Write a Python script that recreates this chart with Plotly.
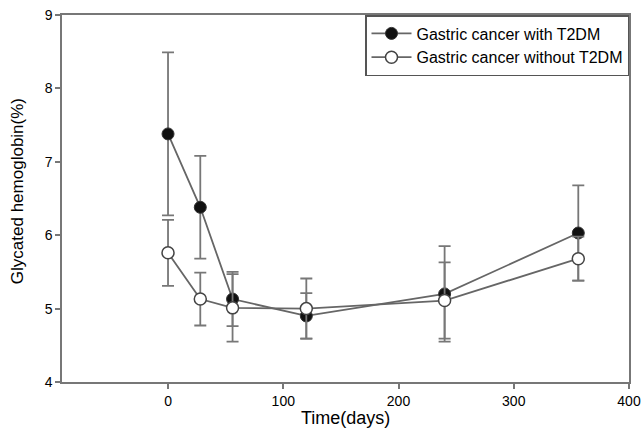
import plotly.graph_objects as go

days = [0, 28, 56, 120, 240, 356]
with_t2dm = [7.38, 6.38, 5.13, 4.90, 5.20, 6.03]
with_sd = [1.11, 0.70, 0.37, 0.31, 0.65, 0.65]
without_t2dm = [5.76, 5.13, 5.01, 5.00, 5.11, 5.68]
without_sd = [0.45, 0.36, 0.46, 0.41, 0.52, 0.30]
x_ticks = [0, 100, 200, 300, 400]
y_ticks = [4, 5, 6, 7, 8, 9]
x_title = "Time(days)"
y_title = "Glycated hemoglobin(%)"

line_col = "#666666"
err_col = "#777777"

fig = go.Figure()
fig.add_trace(go.Scatter(
    x=days, y=with_t2dm, name="Gastric cancer with T2DM",
    mode="lines+markers",
    line=dict(color=line_col, width=1.8),
    marker=dict(symbol="circle", size=12, color="#111111",
                line=dict(color="#333333", width=1)),
    error_y=dict(type="data", array=with_sd, visible=True,
                 color=err_col, thickness=1.8, width=6),
))
fig.add_trace(go.Scatter(
    x=days, y=without_t2dm, name="Gastric cancer without T2DM",
    mode="lines+markers",
    line=dict(color=line_col, width=1.8),
    marker=dict(symbol="circle", size=12, color="white",
                line=dict(color="#444444", width=1.5)),
    error_y=dict(type="data", array=without_sd, visible=True,
                 color=err_col, thickness=1.8, width=6),
))

axis_common = dict(
    showline=True, linecolor="#777777", linewidth=1.5, mirror=True,
    showgrid=False, zeroline=False, ticks="outside", ticklen=5,
    tickcolor="#777777", tickwidth=1.5, automargin=False,
    tickfont=dict(family="Liberation Sans, Arial", size=14, color="black"),
)

fig.update_layout(
    width=644, height=436,
    margin=dict(l=62, r=15, t=15, b=54),
    paper_bgcolor="white", plot_bgcolor="white",
    font=dict(family="Liberation Sans, Arial", color="black"),
    showlegend=True,
    legend=dict(x=1, y=1, xanchor="right", yanchor="top",
                bordercolor="#555555", borderwidth=1.5, bgcolor="white",
                font=dict(size=16, color="black"),
                tracegroupgap=0, itemwidth=40),
    xaxis=dict(range=[-92, 400], tickvals=x_ticks, **axis_common),
    yaxis=dict(range=[4, 9], tickvals=y_ticks, **axis_common),
    annotations=[
        dict(text=x_title, xref="paper", yref="paper", x=0.5, y=-0.098,
             xanchor="center", yanchor="middle", showarrow=False,
             font=dict(size=18, color="black")),
        dict(text=y_title, xref="paper", yref="paper", x=-0.0794, y=0.52,
             xanchor="center", yanchor="middle", showarrow=False,
             textangle=-90, font=dict(size=17, color="black")),
    ],
)

fig.write_html("out.html",
               config={"displayModeBar": False},
               post_script="document.body.style.margin='0px';document.body.style.overflow='hidden';")
